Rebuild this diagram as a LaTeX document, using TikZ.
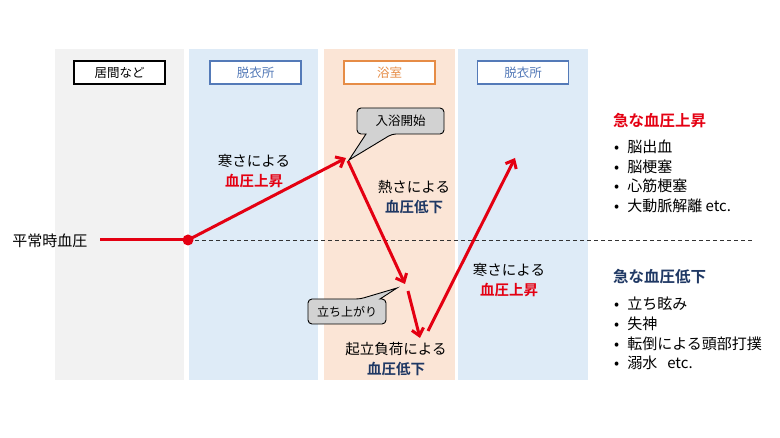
\documentclass[tikz,border=0pt]{standalone}
\usepackage{fontspec}
\setmainfont{Noto Sans CJK JP}[BoldFont={Noto Sans CJK JP Bold}]
\usetikzlibrary{arrows.meta}
\definecolor{bpred}{RGB}{228,0,18}
\definecolor{bpnavy}{RGB}{31,56,100}
\definecolor{colgray}{RGB}{242,242,242}
\definecolor{colblue}{RGB}{222,235,247}
\definecolor{colorange}{RGB}{251,229,214}
\definecolor{headblue}{RGB}{84,122,184}
\definecolor{headorange}{RGB}{230,140,70}
\definecolor{callgray}{RGB}{210,210,210}
\begin{document}
\begin{tikzpicture}
[x=1pt,y=-1pt,
  headbox/.style={draw,line width=1.2pt,fill=white,minimum width=91pt,
    minimum height=23pt,inner sep=0pt,font=\fontsize{12.5}{13}\selectfont},%
  callshape/.style={draw,line width=0.9pt,fill=callgray,rounded corners=4pt},%
  calltext/.style={inner sep=0pt,font=\fontsize{12}{12}\selectfont},%
  bplabel/.style={align=center,font=\fontsize{14.5}{20}\selectfont},%
  bparrow/.style={bpred,line width=3pt,-{Straight Barb[length=7pt,width=12pt,line width=3pt]}},%
  listtext/.style={anchor=west,inner sep=0pt,font=\fontsize{15}{15}\selectfont},%
  listhead/.style={anchor=west,inner sep=0pt,font=\fontsize{15.5}{15.5}\selectfont\bfseries}]
\useasboundingbox (0,0) rectangle (780,438);
%% room columns
\foreach \colname/\xa/\xb/\fillc in {living/55/184/colgray, dressa/189/318/colblue,
  bath/324/455/colorange, dressb/458/588/colblue} {
  \fill[\fillc] (\xa,49) rectangle (\xb,380);
}
%% room headers
\node (hliving) at (119.5,72.5) [headbox,draw=black] {居間など};
\node (hdressa) at (255.5,72.5) [headbox,draw=headblue,text=headblue] {脱衣所};
\node (hbath) at (389.5,72.5) [headbox,draw=headorange,text=headorange] {浴室};
\node (hdressb) at (523,72.5) [headbox,draw=headblue,text=headblue] {脱衣所};
%% normal pressure line
\node (normal) at (50,241) [font=\fontsize{15}{15}\selectfont,inner sep=0pt] {平常時血圧};
\coordinate (lstart) at (100,240);
\coordinate (dot) at (188,240);
\coordinate (lend) at (753,240);
\draw[dash pattern=on 4pt off 3pt,line width=0.8pt,black!80] (dot) -- (lend);
\draw[bpred,line width=3pt] (lstart) -- (dot);
\fill[bpred] (dot) circle (5.5pt);
%% curve points
\coordinate (topa) at (346,158);
\coordinate (topb) at (348,161);
\coordinate (mida) at (405,284);
\coordinate (midb) at (408,291);
\coordinate (lowa) at (420,338);
\coordinate (lowb) at (428,331);
\coordinate (topc) at (515,158);
\path
\foreach \startnode/\endnode in {dot/topa, topb/mida, midb/lowa, lowb/topc} {
  (\startnode) edge[bparrow] (\endnode)
};
%% callouts
\draw[callshape] (357,108) -- (444,108) -- (444,134) -- (392,134)
  [sharp corners] -- (349,160) -- (366,134) [rounded corners=4pt] -- (357,134) -- cycle;
\node (cstart) at (400.5,121) [calltext,font=\fontsize{12.5}{12.5}\selectfont] {入浴開始};
\draw[callshape] (308,299) -- (360,299) [sharp corners] -- (397,288) -- (380,299)
  [rounded corners=4pt] -- (386,299) -- (386,324) -- (308,324) -- cycle;
\node (cstand) at (347,311.5) [calltext] {立ち上がり};
%% labels
\node (lcolda) at (254,171) [bplabel] {寒さによる\\{\bfseries\color{bpred}血圧上昇}};
\node (lheat) at (414,197) [bplabel] {熱さによる\\{\bfseries\color{bpnavy}血圧低下}};
\node (lcoldb) at (509,280) [bplabel] {寒さによる\\{\bfseries\color{bpred}血圧上昇}};
\node (lstand) at (396,359) [bplabel] {起立負荷による\\{\bfseries\color{bpnavy}血圧低下}};
%% risk lists
\node (riskup) at (613,121) [listhead,text=bpred] {急な血圧上昇};
\foreach \itemname/\y/\itemtext in {upa/147/脳出血, upb/167/脳梗塞, upc/186/心筋梗塞,
  upd/206/大動脈解離 etc.} {
  \node (\itemname) at (614,\y) [listtext] {•\hspace{8pt}\itemtext};
}
\node (riskdown) at (613,277) [listhead,text=bpnavy] {急な血圧低下};
\foreach \itemname/\y/\itemtext in {downa/304/立ち眩み, downb/324/失神,
  downc/344/転倒による頭部打撲, downd/363/溺水\hspace{10pt}etc.} {
  \node (\itemname) at (614,\y) [listtext] {•\hspace{8pt}\itemtext};
}
\end{tikzpicture}
\end{document}
